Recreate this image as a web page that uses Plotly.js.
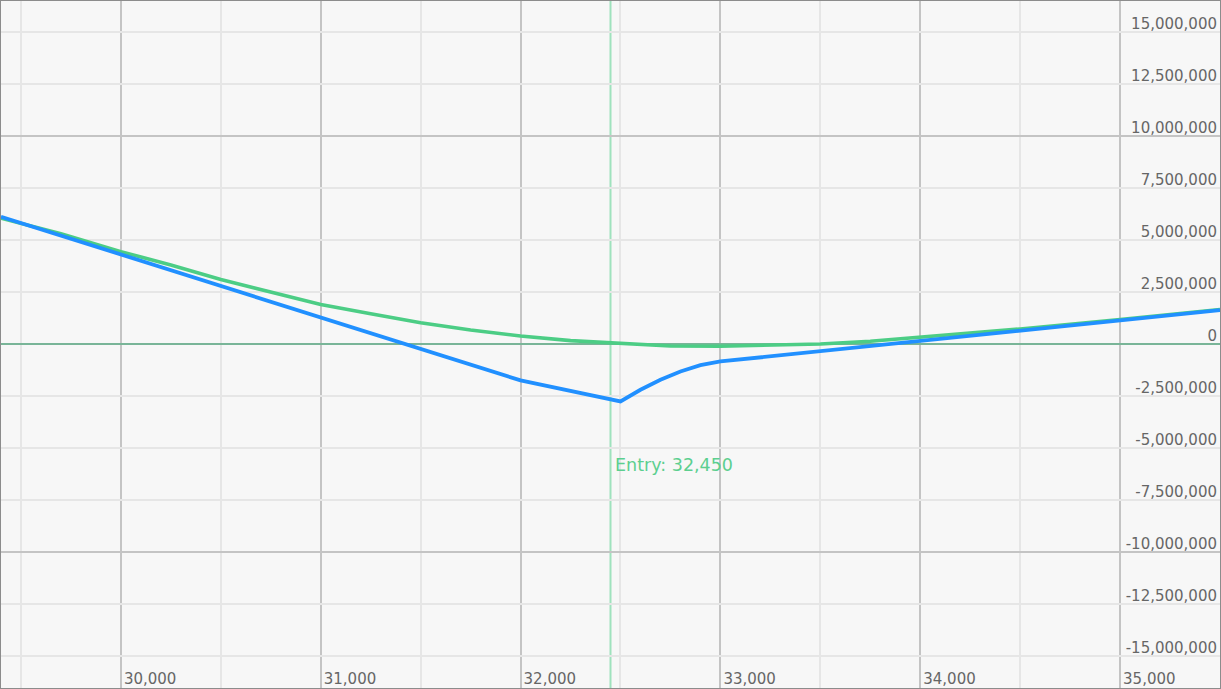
<!DOCTYPE html>
<html>
<head>
<meta charset="utf-8">
<script src="https://cdn.plot.ly/plotly-3.0.1.min.js"></script>
<style>
  html, body { margin: 0; padding: 0; background: #f7f7f7; }
  #chart { width: 1221px; height: 689px; box-sizing: border-box; border: 1px solid #8c8c8c; }
</style>
</head>
<body>
<div id="chart"></div>
<script>
// Price levels (x) and P&L values for the current (green) curve
const currentPrices = [29400, 29700, 30000, 30250, 30500, 30750, 31000, 31250, 31500, 31750, 32000, 32250, 32450, 32600, 32750, 33000, 33250, 33500, 33750, 34000, 34500, 35000, 35500];
const currentPnl = [6050000, 5300000, 4440000, 3800000, 3100000, 2500000, 1900000, 1450000, 1020000, 670000, 380000, 160000, 40000, -30000, -100000, -110000, -70000, 0, 130000, 330000, 720000, 1180000, 1660000];

// Expiry (blue) curve
const expiryPrices = [29400, 32000, 32500, 32600, 32700, 32800, 32900, 33000, 35500];
const expiryPnl = [6120000, -1750000, -2760000, -2200000, -1720000, -1320000, -1020000, -840000, 1630000];

// Axis ticks
const xTickVals = [30000, 31000, 32000, 33000, 34000, 35000];
const xTickText = ['30,000', '31,000', '32,000', '33,000', '34,000', '35,000'];
const yTickVals = [-15000000, -12500000, -10000000, -7500000, -5000000, -2500000, 0, 2500000, 5000000, 7500000, 10000000, 12500000, 15000000];
const yTickText = ['-15,000,000', '-12,500,000', '-10,000,000', '-7,500,000', '-5,000,000', '-2,500,000', '0', '2,500,000', '5,000,000', '7,500,000', '10,000,000', '12,500,000', '15,000,000'];
const darkGridLevels = [-10000000, 10000000];

const entryPrice = 32450;
const entryLabel = 'Entry: 32,450';
const entryLabelLevel = -5800000;

const yRange = [-16540000, 16490000];

const traces = [
  { x: currentPrices, y: currentPnl, type: 'scatter', mode: 'lines',
    line: { color: '#4ccd85', width: 3.6 }, hoverinfo: 'skip', showlegend: false },
  { x: expiryPrices, y: expiryPnl, type: 'scatter', mode: 'lines',
    line: { color: '#2190ff', width: 3.8 }, hoverinfo: 'skip', showlegend: false }
];

const tickFont = { family: 'DejaVu Sans, Verdana, sans-serif', size: 15, color: '#666666' };

const layout = {
  width: 1219, height: 687,
  margin: { l: 0, r: 0, t: 0, b: 0 },
  paper_bgcolor: '#f7f7f7', plot_bgcolor: '#f7f7f7',
  showlegend: false,
  xaxis: {
    range: [29400, 35500], tickmode: 'array', tickvals: xTickVals, ticktext: xTickText,
    showgrid: true, gridcolor: '#c4c4c4', gridwidth: 2,
    minor: { tickmode: 'linear', tick0: 0, dtick: 500, showgrid: true, gridcolor: '#e6e6e6', gridwidth: 2 },
    zeroline: false, ticks: '', ticklabelposition: 'inside right',
    ticklabelshift: 3, ticklabelstandoff: -5,
    anchor: 'free', position: 0,
    tickfont: tickFont, fixedrange: true
  },
  yaxis: {
    range: yRange, tickmode: 'array', tickvals: yTickVals, ticktext: yTickText,
    side: 'right', ticklabelposition: 'inside top', ticks: '',
    ticklabelshift: 2,
    anchor: 'free', position: 1,
    showgrid: true, gridcolor: '#e6e6e6', gridwidth: 2,
    zeroline: true, zerolinecolor: '#79b598', zerolinewidth: 2,
    tickfont: tickFont, fixedrange: true
  },
  shapes: darkGridLevels.map(v => ({
    type: 'line', xref: 'paper', x0: 0, x1: 1, yref: 'y', y0: v, y1: v,
    line: { color: '#c4c4c4', width: 2 }, layer: 'above'
  })).concat([{
    type: 'line', xref: 'x', x0: entryPrice, x1: entryPrice, yref: 'paper', y0: 0, y1: 1,
    line: { color: '#9fe2bd', width: 2 }, layer: 'between'
  }]),
  annotations: [{
    x: entryPrice, y: entryLabelLevel, xref: 'x', yref: 'y',
    text: entryLabel, showarrow: false, xanchor: 'left', yanchor: 'middle', xshift: 2,
    font: { family: 'DejaVu Sans, Verdana, sans-serif', size: 17.5, color: '#5ccf8f' }
  }]
};

Plotly.newPlot('chart', traces, layout, { displayModeBar: false, staticPlot: true });
</script>
</body>
</html>
